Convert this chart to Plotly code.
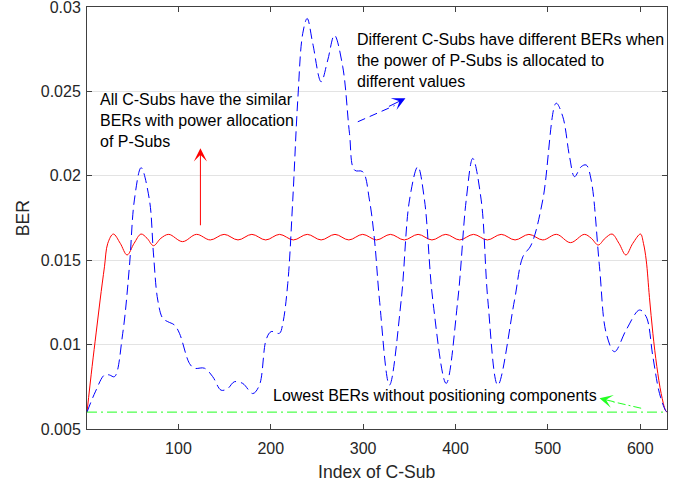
import plotly.graph_objects as go

# ---------------- data ----------------
x_range = [1, 629]
y_range = [0.005, 0.03]
y_ticks = [0.005, 0.01, 0.015, 0.02, 0.025, 0.03]
y_ticktext = ["0.005", "0.01", "0.015", "0.02", "0.025", "0.03"]
x_ticks = [100, 200, 300, 400, 500, 600]
x_title = "Index of C-Sub"
y_title = "BER"

# similar BERs (power allocation of P-Subs) - red solid
red_x = [1, 6.5, 10.9, 15.2, 19.9, 23.5, 29.5, 37, 44.4, 52, 59.5, 66, 73, 81, 89.5,
         104.5, 119.5, 134.5, 149.5, 164.5, 179.5, 194.5, 209.5, 224.5, 239.5, 254.5,
         269.5, 284.5, 299.5, 314.5, 329.5, 344.5, 359.5, 374.5, 389.5, 404.5, 419.5,
         434.5, 449.5, 464.5, 479.5, 494.5, 509.5, 524.5, 539.5, 547, 554.5, 562, 569.5,
         577, 584.5, 592, 600.3, 603.5, 606.5, 610, 613.7, 618, 622.7, 627.4, 629]
red_y = [0.0060, 0.00869, 0.01069, 0.01264, 0.01461, 0.0160, 0.01655, 0.0160, 0.01531,
         0.0160, 0.01655, 0.0163, 0.01586, 0.0163, 0.01653,
         0.0161, 0.01653, 0.0162, 0.01653, 0.0162, 0.01653, 0.0162, 0.01653, 0.0162,
         0.01653, 0.0162, 0.01653, 0.0162, 0.01653, 0.0162, 0.01653, 0.0162, 0.01653,
         0.0162, 0.01653, 0.0162, 0.01653, 0.0162, 0.01653, 0.0162, 0.01653, 0.0162,
         0.01653, 0.01604, 0.01653, 0.0163, 0.0159, 0.0163, 0.01655,
         0.0160, 0.01531, 0.0160, 0.01655, 0.0160, 0.0150, 0.0128, 0.01067, 0.0087,
         0.0071, 0.0061, 0.0060]

# different BERs - blue dashed
blue_x = [1, 10, 19.9, 25.3, 30.8, 39.7, 46.9, 52.3, 59.6, 68.6, 72.9, 77.6, 83.0, 88.4,
          95.7, 101.1, 111.9, 117.3, 128.2, 137.1, 146.2, 153.4, 160.6, 169.6, 180.5,
          187.7, 195, 200.4, 209.4, 213, 218.4, 223.8, 229.2, 234.6, 239.4, 245.4, 254.5,
          261.7, 268.9, 277.9, 285.2, 290.6, 299.6, 306.8, 312.3, 317.7, 328.5, 341.2,
          350.2, 359.2, 366.4, 375.4, 389.9, 402.5, 411.6, 418.7, 427.8, 435, 445.8,
          463.9, 472.9, 481.9, 494.5, 509, 516.2, 523.5, 528.9, 536.1, 541.5, 546.9,
          555.9, 563.2, 572.2, 584.8, 599.2, 606.5, 613.7, 620.9, 627.4, 629]
blue_y = [0.0060, 0.0072, 0.0082, 0.0082, 0.0081, 0.01067, 0.01461, 0.01857, 0.02048,
          0.01857, 0.01543, 0.01264, 0.01156, 0.01136, 0.01116, 0.01067, 0.00889, 0.0086,
          0.0086, 0.0081, 0.0073, 0.0074, 0.0078, 0.0077, 0.0071, 0.0076, 0.0103, 0.01077,
          0.01067, 0.01126, 0.01363, 0.01857, 0.02449, 0.02844, 0.02932, 0.02785, 0.02557,
          0.02686, 0.02833, 0.02646, 0.02252, 0.02034, 0.02024, 0.01857, 0.0162, 0.01264,
          0.0076, 0.01264, 0.01857, 0.02054, 0.01857, 0.01264, 0.0077, 0.01264, 0.01857,
          0.02103, 0.01857, 0.01264, 0.0076, 0.01264, 0.0152, 0.0159, 0.01857, 0.0243,
          0.0235, 0.02113, 0.01995, 0.02054, 0.02064, 0.01975, 0.01461, 0.01067, 0.00958,
          0.01087, 0.01205, 0.01165, 0.00929, 0.0071, 0.0061, 0.0060]

# lowest BERs without positioning components - green dash-dot
green_x = [1, 629]
green_y = [0.0060, 0.0060]

# annotation texts
txt_similar = "All C-Subs have the similar<br>BERs with power allocation<br>of P-Subs"
txt_diff = "Different C-Subs have different BERs when<br>the power of P-Subs is allocated to<br>different values"
txt_lowest = "Lowest BERs without positioning components"

# ---------------- figure ----------------
FONT = "Liberation Sans, Arial, Helvetica, sans-serif"
TXT = "#262626"
AX = "#404040"

fig = go.Figure()
fig.add_trace(go.Scatter(x=red_x, y=red_y, mode="lines",
                         line=dict(color="#ff0000", width=1, shape="spline", smoothing=1.0),
                         showlegend=False))
fig.add_trace(go.Scatter(x=blue_x, y=blue_y, mode="lines",
                         line=dict(color="#0000ff", width=1, shape="spline", smoothing=1.0,
                                   dash="10px,5px"),
                         showlegend=False))
fig.add_trace(go.Scatter(x=green_x, y=green_y, mode="lines",
                         line=dict(color="#22ff22", width=1, dash="10px,4px,2px,4px"),
                         showlegend=False))

# text annotations
fig.add_annotation(x=12.6, y=0.02326, xref="x", yref="y", text=txt_similar, showarrow=False,
                   xanchor="left", yanchor="middle", align="left",
                   font=dict(family=FONT, size=16, color="#000000"))
fig.add_annotation(x=291.7, y=0.02682, xref="x", yref="y", text=txt_diff, showarrow=False,
                   xanchor="left", yanchor="middle", align="left",
                   font=dict(family=FONT, size=16, color="#000000"))
fig.add_annotation(x=200.4, y=0.00701, xref="x", yref="y", text=txt_lowest, showarrow=False,
                   xanchor="left", yanchor="middle", align="left",
                   font=dict(family=FONT, size=16, color="#000000"))

# axis titles
fig.add_annotation(x=0.5, y=-0.1012, xref="paper", yref="paper", text=x_title,
                   showarrow=False, xanchor="center", yanchor="middle",
                   font=dict(family=FONT, size=17.6, color=TXT))
fig.add_annotation(x=-0.1098, y=0.5, xref="paper", yref="paper", text=y_title,
                   showarrow=False, xanchor="center", yanchor="middle", textangle=-90,
                   font=dict(family=FONT, size=17.6, color=TXT))

# red arrow (solid)
fig.add_annotation(x=123.8, y=0.02163, ax=123.8, ay=0.01698, xref="x", yref="y",
                   axref="x", ayref="y", text="", showarrow=True, arrowhead=3,
                   arrowsize=2.2, arrowwidth=1, arrowcolor="#ff0000")

# blue dashed arrow
fig.add_shape(type="line", x0=294.2, y0=0.0232, x1=334.0, y1=0.02416, xref="x", yref="y",
              line=dict(color="#0000ff", width=1, dash="8px,5px"))
fig.add_annotation(x=345.8, y=0.02459, xref="x", yref="y", ax=-18, ay=8.8,
                   text="", showarrow=True, arrowhead=3, arrowsize=2.2, arrowwidth=1,
                   arrowcolor="#0000ff")

# green dash-dot arrow
fig.add_shape(type="line", x0=601, y0=0.00623, x1=567, y1=0.00666, xref="x", yref="y",
              line=dict(color="#22ff22", width=1, dash="8px,3px,2px,3px"))
fig.add_annotation(x=555.9, y=0.00682, xref="x", yref="y", ax=15.5, ay=3.7,
                   text="", showarrow=True, arrowhead=3, arrowsize=2.2, arrowwidth=1,
                   arrowcolor="#22ff22")

fig.update_layout(
    width=693, height=487,
    margin=dict(l=87, r=26, t=7, b=58, autoexpand=False),
    paper_bgcolor="white", plot_bgcolor="white",
    font=dict(family=FONT, size=16, color=TXT),
    showlegend=False,
)
fig.update_xaxes(range=x_range, tickvals=x_ticks, ticks="inside", ticklen=5,
                 tickcolor=AX, showline=True, linecolor=AX, linewidth=1, mirror="ticks",
                 showgrid=False, zeroline=False, ticklabelstandoff=5,
                 ticklabeloverflow="allow", automargin=False,
                 tickfont=dict(size=16, color=TXT))
fig.update_yaxes(range=y_range, tickvals=y_ticks, ticktext=y_ticktext, ticks="inside",
                 ticklen=5, tickcolor=AX, showline=True, linecolor=AX, linewidth=1,
                 mirror="ticks", showgrid=True, gridcolor="#e3e3e3", gridwidth=1,
                 zeroline=False, ticklabelstandoff=2, ticklabeloverflow="allow",
                 automargin=False, tickfont=dict(size=16, color=TXT))

fig.write_html("out.html")
